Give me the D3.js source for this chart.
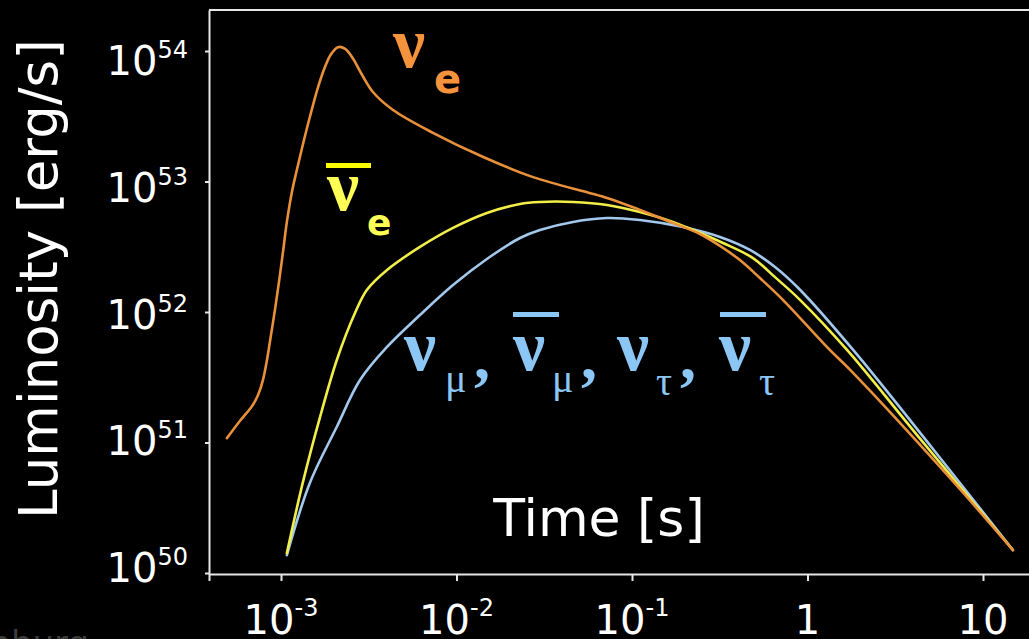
<!DOCTYPE html>
<html>
<head>
<meta charset="utf-8">
<script src="https://cdn.jsdelivr.net/npm/d3@7"></script>
<style>
  html, body { margin: 0; padding: 0; background: #000; }
  svg { display: block; }
</style>
</head>
<body>
<div id="chart"></div>
<script>
// time [s] and luminosity [erg/s]
const nueTime = [4.92e-4, 5.83e-4, 6.84e-4, 7.40e-4, 7.89e-4, 8.32e-4, 8.77e-4, 9.24e-4, 9.74e-4, 1.03e-3,
  1.08e-3, 1.16e-3, 1.23e-3, 1.33e-3, 1.46e-3, 1.62e-3, 1.78e-3, 1.93e-3, 2.11e-3, 2.32e-3,
  2.54e-3, 2.90e-3, 3.34e-3, 4.35e-3, 7.34e-3, 1.42e-2, 2.73e-2, 7.21e-2, 0.111, 0.171,
  0.244, 0.317, 0.412, 0.536, 0.724, 1.34, 1.75, 6.48, 14.8];
const nueLum = [1.08e51, 1.46e51, 1.90e51, 2.31e51, 3.01e51, 4.29e51, 6.67e51, 1.04e52, 1.70e52, 2.99e52,
  4.90e52, 8.61e52, 1.22e53, 1.90e53, 3.12e53, 5.20e53, 7.53e53, 9.48e53, 1.07e54, 1.04e54,
  8.99e53, 6.55e53, 4.85e53, 3.53e53, 2.36e53, 1.54e53, 1.08e53, 7.48e52, 6.05e52, 4.81e52,
  3.96e52, 3.21e52, 2.50e52, 1.82e52, 1.24e52, 5.12e51, 3.60e51, 5.35e50, 1.50e50];

const anueTime = [1.08e-3, 1.33e-3, 1.67e-3, 2.08e-3, 2.64e-3, 3.09e-3, 4.02e-3, 6.19e-3, 9.55e-3, 1.49e-2,
  2.30e-2, 2.99e-2, 4.61e-2, 7.21e-2, 0.111, 0.171, 0.223, 0.330, 0.489, 0.653,
  0.906, 1.68, 4.21, 14.8];
const anueLum = [1.42e50, 4.90e50, 1.57e51, 4.29e51, 9.82e51, 1.48e52, 2.10e52, 3.15e52, 4.41e52, 5.74e52,
  6.73e52, 6.97e52, 6.97e52, 6.61e52, 5.83e52, 4.90e52, 4.25e52, 3.38e52, 2.59e52, 1.85e52,
  1.24e52, 5.12e51, 1.14e51, 1.50e50];

const nuxTime = [1.08e-3, 1.46e-3, 2.08e-3, 2.82e-3, 4.02e-3, 6.19e-3, 9.55e-3, 1.49e-2, 2.30e-2, 2.99e-2,
  4.61e-2, 7.21e-2, 0.111, 0.195, 0.317, 0.470, 0.653, 0.906, 1.82, 5.19, 14.8];
const nuxLum = [1.37e50, 4.90e50, 1.32e51, 3.01e51, 5.40e51, 9.48e51, 1.61e52, 2.55e52, 3.69e52, 4.25e52,
  4.90e52, 5.25e52, 5.07e52, 4.48e52, 3.76e52, 2.99e52, 2.21e52, 1.48e52, 5.12e51, 8.91e50, 1.50e50];

const xTicks = [1e-3, 1e-2, 1e-1, 1, 10];
const xTickLabels = [["10", "-3"], ["10", "-2"], ["10", "-1"], ["1", ""], ["10", ""]];
const yTicks = [1e50, 1e51, 1e52, 1e53, 1e54];
const yTickLabels = [["10", "50"], ["10", "51"], ["10", "52"], ["10", "53"], ["10", "54"]];

const width = 1029, height = 639;

const svg = d3.select("#chart").append("svg")
  .attr("width", width)
  .attr("height", height)
  .style("background", "#000");

// scales: fix the decades first, then stretch to the frame
const x = d3.scaleLog().domain([1e-3, 10]).range([281, 983]);
x.domain([x.invert(209), x.invert(1034)]).range([209, 1034]);
const y = d3.scaleLog().domain([1e50, 1e54]).range([573, 51]);
y.domain([y.invert(574), y.invert(10)]).range([574, 10]);
// tick labels sit slightly off the ticks in the original
const yLab = d3.scaleLog().domain([1e50, 1e54]).range([582, 75]);

const axisColor = "#e6e6e6";

// top frame line
svg.append("line")
  .attr("x1", 209).attr("x2", 1034)
  .attr("y1", y.range()[1]).attr("y2", y.range()[1])
  .attr("stroke", axisColor).attr("stroke-width", 2);

const gx = svg.append("g")
  .attr("transform", `translate(0,${y.range()[0]})`)
  .call(d3.axisBottom(x).tickValues(xTicks).tickSize(7).tickSizeOuter(7).tickFormat(""));
gx.selectAll("path, line").attr("stroke", axisColor).attr("stroke-width", 2);

const gy = svg.append("g")
  .attr("transform", `translate(${x.range()[0]},0)`)
  .call(d3.axisLeft(y).tickValues(yTicks).tickSize(4).tickSizeOuter(0).tickFormat(""));
gy.selectAll("path, line").attr("stroke", axisColor).attr("stroke-width", 2);

const tickFont = "'DejaVu Sans', sans-serif";

// x tick labels with superscripts
xTicks.forEach((v, i) => {
  const t = svg.append("text")
    .attr("x", x(v)).attr("y", 634)
    .attr("text-anchor", "middle")
    .attr("font-family", tickFont)
    .attr("fill", "#fff");
  t.append("tspan").attr("font-size", 40).text(xTickLabels[i][0]);
  if (xTickLabels[i][1])
    t.append("tspan").attr("font-size", 24).attr("dy", -18).text(xTickLabels[i][1]);
});

// y tick labels
yTicks.forEach((v, i) => {
  const t = svg.append("text")
    .attr("x", 188).attr("y", yLab(v))
    .attr("text-anchor", "end")
    .attr("font-family", tickFont)
    .attr("fill", "#fff");
  t.append("tspan").attr("font-size", 40).text(yTickLabels[i][0]);
  t.append("tspan").attr("font-size", 24).attr("dy", -17).text(yTickLabels[i][1]);
});

// axis titles
svg.append("text")
  .attr("transform", "translate(57,279) rotate(-90)")
  .attr("text-anchor", "middle")
  .attr("font-family", tickFont)
  .attr("font-size", 53)
  .attr("fill", "#fff")
  .text("Luminosity [erg/s]");

svg.append("text")
  .attr("x", 599).attr("y", 536)
  .attr("text-anchor", "middle")
  .attr("font-family", tickFont)
  .attr("font-size", 52)
  .attr("fill", "#fff")
  .text("Time [s]");

// faint leftover text at the bottom-left corner
svg.append("text")
  .attr("x", 89).attr("y", 655)
  .attr("text-anchor", "end")
  .attr("font-family", tickFont)
  .attr("font-size", 34)
  .attr("fill", "#3c3c3c")
  .text("Hamburg");

// curves
const line = d3.line()
  .x(d => x(d[0]))
  .y(d => y(d[1]))
  .curve(d3.curveCatmullRom.alpha(0.5));

const series = [
  { time: nuxTime, lum: nuxLum, color: "#a2c8ec" },
  { time: anueTime, lum: anueLum, color: "#f2ee48" },
  { time: nueTime, lum: nueLum, color: "#e9913a" }
];

svg.append("g").selectAll("path")
  .data(series)
  .enter().append("path")
  .attr("d", s => line(d3.zip(s.time, s.lum)))
  .attr("fill", "none")
  .attr("stroke", s => s.color)
  .attr("stroke-width", 2.6)
  .attr("stroke-linejoin", "round")
  .attr("stroke-linecap", "round");

// flavour labels
const greek = "'Liberation Serif', 'DejaVu Serif', serif";
const sansBold = "'DejaVu Sans', sans-serif";

function nu(xp, yp, color) {
  svg.append("text")
    .attr("x", xp).attr("y", yp)
    .attr("font-family", greek)
    .attr("font-weight", "bold")
    .attr("font-size", 72)
    .attr("fill", color)
    .text("\u03bd");
}
function sub(xp, yp, txt, color, family, size, weight) {
  svg.append("text")
    .attr("x", xp).attr("y", yp)
    .attr("font-family", family)
    .attr("font-weight", weight)
    .attr("font-size", size)
    .attr("fill", color)
    .text(txt);
}
function bar(x1, x2, yp, color) {
  svg.append("rect")
    .attr("x", x1).attr("y", yp)
    .attr("width", x2 - x1).attr("height", 5)
    .attr("fill", color);
}

const cE = "#f5923c", cA = "#ffff55", cX = "#8cc6f5";

nu(393, 67, cE);
sub(434, 93, "e", cE, sansBold, 40, "bold");

bar(326, 371, 163, "#ffff00");
nu(327, 210, cA);
sub(367, 235, "e", cA, sansBold, 36, "bold");

nu(404, 370, cX);
sub(445, 392, "\u03bc", cX, greek, 40, "normal");
sub(474, 378, ",", cX, greek, 64, "bold");
bar(513, 559, 312, cX);
nu(513, 370, cX);
sub(552, 392, "\u03bc", cX, greek, 40, "normal");
sub(581, 378, ",", cX, greek, 64, "bold");
nu(617, 370, cX);
sub(656, 395, "\u03c4", cX, greek, 40, "normal");
sub(680, 378, ",", cX, greek, 64, "bold");
bar(720, 766, 312, cX);
nu(719, 370, cX);
sub(759, 395, "\u03c4", cX, greek, 40, "normal");
</script>
</body>
</html>
